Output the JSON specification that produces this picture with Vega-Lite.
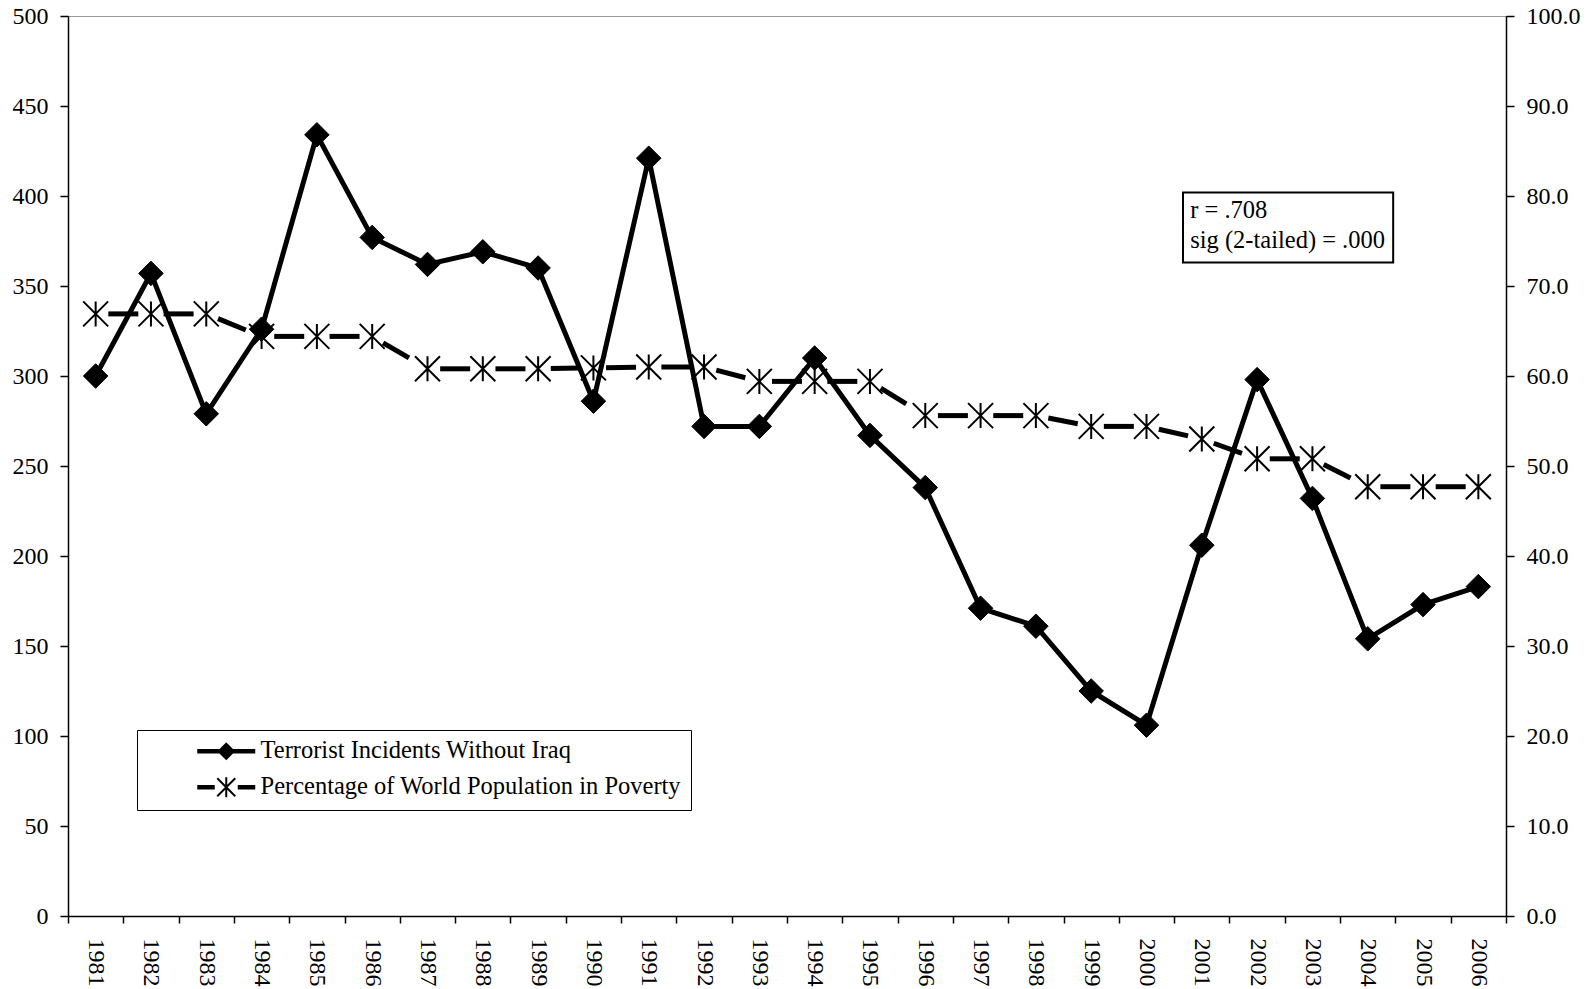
{
  "$schema": "https://vega.github.io/schema/vega-lite/v6.json",
  "width": 1438,
  "height": 900,
  "autosize": "none",
  "padding": {"left": 68, "top": 16, "right": 86, "bottom": 73},
  "background": "white",
  "config": {
    "view": {"stroke": "#999999", "strokeWidth": 1},
    "font": "Liberation Serif",
    "axis": {
      "labelFont": "Liberation Serif",
      "labelFontSize": 24,
      "labelColor": "black",
      "domainColor": "black",
      "domainWidth": 1.5,
      "tickColor": "black",
      "tickWidth": 1.5,
      "grid": false,
      "title": null
    },
    "legend": {
      "orient": "none",
      "legendX": 69,
      "legendY": 714,
      "title": null,
      "labelFont": "Liberation Serif",
      "labelFontSize": 24.5,
      "labelColor": "black",
      "labelLimit": 800,
      "strokeColor": "black",
      "fillColor": "white",
      "padding": 9,
      "symbolOffset": 68,
      "symbolSize": 400,
      "symbolFillColor": "black",
      "symbolStrokeColor": "black",
      "symbolStrokeWidth": 1.5,
      "symbolOpacity": 1,
      "rowPadding": 10,
      "labelOffset": 22
    }
  },
  "data": {
    "values": [
      {"year": "1981", "incidents": 300, "poverty": 66.9},
      {"year": "1982", "incidents": 357, "poverty": 66.9},
      {"year": "1983", "incidents": 279, "poverty": 66.9},
      {"year": "1984", "incidents": 326, "poverty": 64.4},
      {"year": "1985", "incidents": 434, "poverty": 64.4},
      {"year": "1986", "incidents": 377, "poverty": 64.4},
      {"year": "1987", "incidents": 362, "poverty": 60.8},
      {"year": "1988", "incidents": 369, "poverty": 60.8},
      {"year": "1989", "incidents": 360, "poverty": 60.8},
      {"year": "1990", "incidents": 286, "poverty": 60.9},
      {"year": "1991", "incidents": 421, "poverty": 61.0},
      {"year": "1992", "incidents": 272, "poverty": 61.0},
      {"year": "1993", "incidents": 272, "poverty": 59.4},
      {"year": "1994", "incidents": 310, "poverty": 59.4},
      {"year": "1995", "incidents": 267, "poverty": 59.4},
      {"year": "1996", "incidents": 238, "poverty": 55.6},
      {"year": "1997", "incidents": 171, "poverty": 55.6},
      {"year": "1998", "incidents": 161, "poverty": 55.6},
      {"year": "1999", "incidents": 125, "poverty": 54.4},
      {"year": "2000", "incidents": 106, "poverty": 54.4},
      {"year": "2001", "incidents": 206, "poverty": 53.0},
      {"year": "2002", "incidents": 298, "poverty": 50.8},
      {"year": "2003", "incidents": 232, "poverty": 50.8},
      {"year": "2004", "incidents": 154, "poverty": 47.7},
      {"year": "2005", "incidents": 173, "poverty": 47.7},
      {"year": "2006", "incidents": 183, "poverty": 47.7}
    ]
  },
  "encoding": {
    "x": {
      "field": "year",
      "type": "ordinal",
      "scale": {"paddingInner": 0, "paddingOuter": 0},
      "axis": {
        "tickBand": "extent",
        "labelAngle": 90,
        "labelFontSize": 24,
        "tickSize": 7,
        "labelPadding": 15,
        "encode": {"ticks": {"y": {"value": -7}}}
      }
    }
  },
  "layer": [
    {
      "layer": [
        {
          "mark": {"type": "line", "color": "black", "strokeWidth": 5},
          "encoding": {
            "y": {
              "field": "incidents",
              "type": "quantitative",
              "scale": {"domain": [0, 500], "nice": false, "zero": true},
              "axis": {
                "orient": "left",
                "values": [0, 50, 100, 150, 200, 250, 300, 350, 400, 450, 500],
                "tickSize": 8,
                "labelPadding": 12,
                "encode": {"ticks": {"x": {"value": 8}}}
              }
            }
          }
        },
        {
          "mark": {"type": "point", "shape": "diamond", "filled": true, "fill": "black", "stroke": "black", "strokeWidth": 1, "size": 600, "opacity": 1},
          "encoding": {
            "y": {"field": "incidents", "type": "quantitative"}
          }
        },
        {
          "data": {"values": [{"note": "legend"}]},
          "mark": {"type": "point", "filled": true, "fill": "black", "stroke": "black", "strokeWidth": 1.5, "size": 0, "opacity": 1},
          "encoding": {
            "x": {"datum": "1981", "type": "ordinal"},
            "y": {"datum": 0, "type": "quantitative"},
            "shape": {
              "datum": "Terrorist Incidents Without Iraq",
              "type": "nominal",
              "scale": {
                "domain": ["Terrorist Incidents Without Iraq", "Percentage of World Population in Poverty"],
                "range": [
                  "M-2.9,-0.22H2.9V0.22H-2.9Z M0,-0.9L0.9,0L0,0.9L-0.9,0Z",
                  "M-2.9,-0.22H-1.15V0.22H-2.9Z M1.15,-0.22H2.9V0.22H1.15Z M-0.1,-1.0H0.1V1.0H-0.1Z M-0.83,-0.97L0.97,0.83L0.83,0.97L-0.97,-0.83Z M-0.97,0.83L0.83,-0.97L0.97,-0.83L-0.83,0.97Z"
                ]
              },
              "legend": {"symbolSize": 400, "symbolOpacity": 1, "symbolFillColor": "black", "symbolStrokeColor": "black", "symbolStrokeWidth": 1.5}
            }
          }
        },
        {
          "data": {"values": [{"note": "box"}]},
          "mark": {"type": "rect", "fill": "white", "stroke": "black", "strokeWidth": 2},
          "encoding": {
            "x": {"datum": "2001", "type": "ordinal", "bandPosition": 0.16},
            "x2": {"datum": "2004", "bandPosition": 0.96},
            "y": {"datum": 402, "type": "quantitative"},
            "y2": {"datum": 363}
          }
        },
        {
          "data": {"values": [{"note": "text"}]},
          "mark": {"type": "text", "align": "left", "baseline": "top", "font": "Liberation Serif", "fontSize": 24.5, "lineHeight": 30.5, "color": "black",
            "text": ["r = .708", "sig (2-tailed) = .000"]},
          "encoding": {
            "x": {"datum": "2001", "type": "ordinal", "bandPosition": 0.29},
            "y": {"datum": 398.5, "type": "quantitative"}
          }
        }
      ]
    },
    {
      "layer": [
        {
          "transform": [
            {"window": [{"op": "lead", "field": "poverty", "as": "poverty_next"}, {"op": "lead", "field": "year", "as": "year_next"}], "sort": [{"field": "year"}]},
            {"filter": "datum.year_next != null"}
          ],
          "mark": {"type": "rule", "color": "black", "strokeWidth": 5, "strokeDash": [30, 200], "strokeDashOffset": 217.35},
          "encoding": {
            "x": {"field": "year", "type": "ordinal", "bandPosition": 0.5},
            "x2": {"field": "year_next", "bandPosition": 0.5},
            "y": {
              "field": "poverty",
              "type": "quantitative",
              "scale": {"domain": [0, 100], "nice": false, "zero": true},
              "axis": {
                "orient": "right",
                "values": [0, 10, 20, 30, 40, 50, 60, 70, 80, 90, 100],
                "format": ".1f",
                "tickSize": 8,
                "labelPadding": 12,
                "encode": {"ticks": {"x": {"value": -8}}}
              }
            },
            "y2": {"field": "poverty_next"}
          }
        },
        {
          "mark": {"type": "point", "shape": "M-1,-1L1,1M-1,1L1,-1M0,-1L0,1", "filled": false, "stroke": "black", "strokeWidth": 2, "size": 625, "opacity": 1},
          "encoding": {
            "y": {"field": "poverty", "type": "quantitative"}
          }
        }
      ]
    }
  ],
  "resolve": {"scale": {"y": "independent"}}
}
